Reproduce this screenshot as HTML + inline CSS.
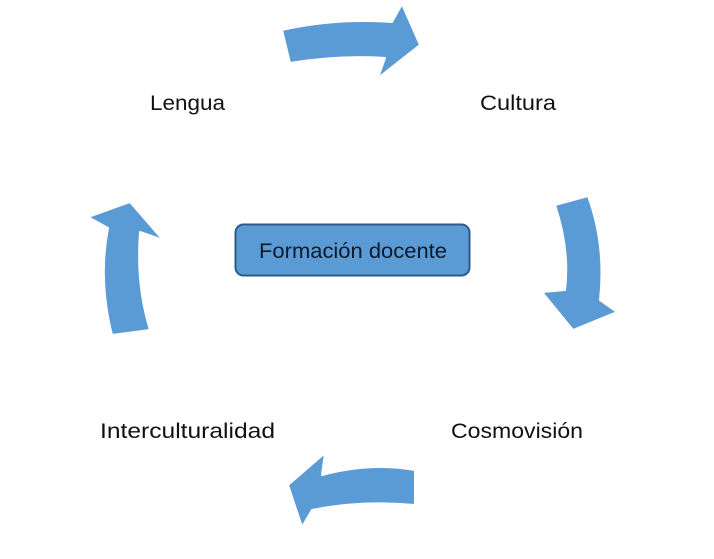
<!DOCTYPE html>
<html><head><meta charset="utf-8"><style>
html,body{margin:0;padding:0;background:#fff;width:714px;height:559px;overflow:hidden}
</style></head><body>
<svg width="714" height="559" viewBox="0 0 714 559" xmlns="http://www.w3.org/2000/svg" font-family="Liberation Sans, sans-serif">
<g fill="#5b9bd5" stroke="#fff" stroke-width="2" stroke-linejoin="round">
<path d="M282,30 Q335,18 392,22 L402,4 L420,45 L378,78 L385,58 Q340,55 290,63 Z"/>
<path d="M555,205 Q570,250 565,290 L542,292 L573,330 L617,312 L600,300 Q606,245 588,196 Z"/>
<path d="M415,470 Q370,462 322,475 L325,453 L288,485 L302,527 L312,510 Q360,500 415,505 Z"/>
<path d="M112,335 Q98,280 108,228 L88,217 L130,202 L163,240 L140,232 Q136,285 150,330 Z"/>
</g>
<rect x="235.5" y="224.5" width="234" height="51" rx="8" ry="8" fill="#5b9bd5" stroke="#2e5a8a" stroke-width="2"/>
<g font-size="21" fill="#111">
<text x="259" y="258" textLength="188" lengthAdjust="spacingAndGlyphs" fill="#0d1a2b">Formación docente</text>
<text x="150" y="110" textLength="75" lengthAdjust="spacingAndGlyphs">Lengua</text>
<text x="480" y="110" textLength="76" lengthAdjust="spacingAndGlyphs">Cultura</text>
<text x="100" y="438" textLength="175" lengthAdjust="spacingAndGlyphs">Interculturalidad</text>
<text x="451" y="438" textLength="132" lengthAdjust="spacingAndGlyphs">Cosmovisión</text>
</g>
</svg>
</body></html>
